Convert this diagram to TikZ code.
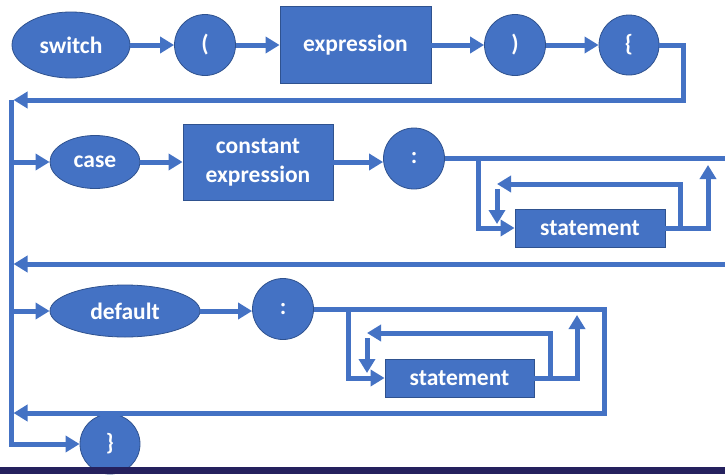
\documentclass[tikz,border=0pt]{standalone}
\usepackage{fontspec}
\setmainfont{Carlito}
\usetikzlibrary{shapes.geometric,arrows.meta,calc}
\definecolor{blu}{HTML}{4472C4}
\definecolor{bdr}{HTML}{2F528F}
\definecolor{navy}{HTML}{25215E}
\begin{document}
\begin{tikzpicture}[x=1pt,y=-1pt,
  box/.style={draw=bdr, fill=blu, line width=0.8pt, text=white,
    font=\fontsize{23.5}{29}\selectfont\bfseries, align=center, inner sep=0pt},
  ell/.style={box, ellipse},
  circ/.style={box, circle, minimum size=61pt},
  rct/.style={box, rectangle},
  ln/.style={draw=blu, line width=5pt},
  arr/.style={ln, -{Triangle[length=14pt,width=16pt]}}]
\useasboundingbox (0,0) rectangle (725,474);
\fill[white] (0,0) rectangle (725,474);

% row 1
\node[ell, minimum width=118pt, minimum height=66pt] (sw) at (71,45) {switch};
\node[circ] (lp) at (205,45) {(};
\node[rct, minimum width=151pt, minimum height=77pt] (ex) at (355.5,45) {expression};
\node[circ] (rp) at (515,45) {)};
\node[circ, minimum size=60pt] (lb) at (629,45) {\{};

% row 2
\node[ell, minimum width=90pt, minimum height=53pt] (cs) at (95,162) {case};
\node[rct, minimum width=150pt, minimum height=76pt] (ce) at (258,162) {constant\\expression};
\node[circ] (c1) at (414,158.5) {:};
\node[rct, minimum width=150pt, minimum height=38pt] (st1) at (590,228) {statement};

% row 3
\node[ell, minimum width=150pt, minimum height=52pt] (df) at (125,311) {default};
\node[circ] (c2) at (283,309) {:};
\node[rct, minimum width=149pt, minimum height=38pt] (st2) at (459.5,378) {statement};
\node[circ, minimum size=60pt] (rb) at (110,444) {\}};

% coordinates
\coordinate (r1) at (683,45);
\coordinate (r1b) at (683,100);
\coordinate (t1) at (13.5,100);
\coordinate (sp0) at (11,100);
\coordinate (sp1) at (11,444);
\coordinate (a2) at (11,162);
\coordinate (e2) at (725,158.5);
\coordinate (L2a) at (478,158.5);
\coordinate (L2b) at (680,184);
\coordinate (L2c) at (497,184);
\coordinate (L2d) at (497,189);
\coordinate (L2e) at (497,224);
\coordinate (L2f) at (708,165);
\coordinate (R2) at (725,264);
\coordinate (t2) at (13.5,264);
\coordinate (a3) at (11,311);
\coordinate (r3) at (604,309);
\coordinate (r3b) at (604,413);
\coordinate (t3) at (13.5,413);
\coordinate (L3a) at (348,309);
\coordinate (L3b) at (550,333);
\coordinate (L3c) at (367,333);
\coordinate (L3d) at (367,338);
\coordinate (L3e) at (367,373);
\coordinate (L3f) at (577,315);

% row 1 connectors
\draw[arr] (sw.east) -- (lp.west);
\draw[arr] (lp.east) -- (ex.west);
\draw[arr] (ex.east) -- (rp.west);
\draw[arr] (rp.east) -- (lb.west);
\draw[arr] (lb.east) -- (r1) -- (r1b) -- (t1);

% spine
\draw[arr] (sp0) -- (sp1) -- (rb.west);

% row 2 connectors
\draw[arr] (a2) -- (cs.west);
\draw[arr] (cs.east) -- (ce.west);
\draw[arr] (ce.east) -- (ce.east -| c1.west);
\draw[ln] (c1.east) -- (e2);
\draw[arr] (L2a) -- (L2a |- st1.west) -- (st1.west);
\draw[arr] (st1.east) -- (st1.east -| L2b) -- (L2b) -- (L2c);
\draw[arr] (L2d) -- (L2e);
\draw[arr] (st1.east) -- (st1.east -| L2f) -- (L2f);
\draw[arr] (R2) -- (t2);

% row 3 connectors
\draw[arr] (a3) -- (df.west);
\draw[arr] (df.east) -- (df.east -| c2.west);
\draw[arr] (c2.east) -- (r3) -- (r3b) -- (t3);
\draw[arr] (L3a) -- (L3a |- st2.west) -- (st2.west);
\draw[arr] (st2.east) -- (st2.east -| L3b) -- (L3b) -- (L3c);
\draw[arr] (L3d) -- (L3e);
\draw[arr] (st2.east) -- (st2.east -| L3f) -- (L3f);

% bottom bar
\fill[navy] (0,467) rectangle (725,474);
\end{tikzpicture}
\end{document}
